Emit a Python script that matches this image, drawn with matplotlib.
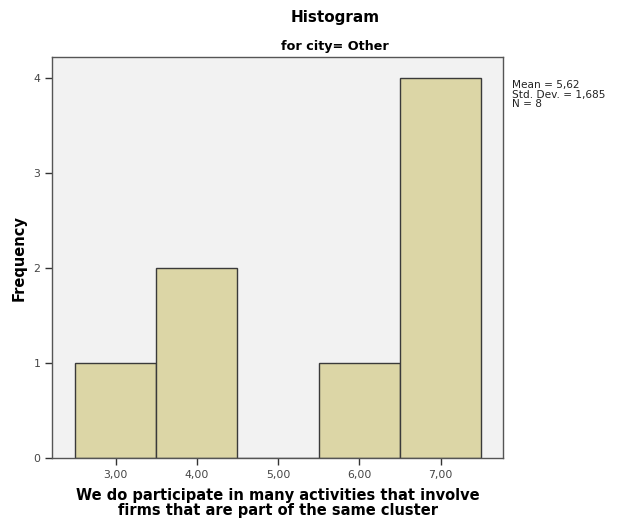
import numpy as np
import matplotlib
matplotlib.use("Agg")
import matplotlib.pyplot as plt

# Responses (1-7 scale) for city = Other
scores = [3, 4, 4, 6, 7, 7, 7, 7]
bin_edges = [2.5, 3.5, 4.5, 5.5, 6.5, 7.5]
x_ticks = [3, 4, 5, 6, 7]
x_tick_labels = ["3,00", "4,00", "5,00", "6,00", "7,00"]
y_ticks = [0, 1, 2, 3, 4]

mean = np.mean(scores)
sd = np.std(scores, ddof=1)
n = len(scores)

fig = plt.figure(figsize=(6.21, 5.26), dpi=100)
fig.patch.set_facecolor("white")
ax = fig.add_axes([0.0837, 0.129, 0.7265, 0.7626])
ax.set_facecolor("#f2f2f2")

ax.hist(scores, bins=bin_edges, color="#dcd6a6", edgecolor="#3a3a3a", linewidth=1.0)

ax.set_xlim(2.217, 7.77)
ax.set_ylim(0, 4.22)
ax.set_xticks(x_ticks)
ax.set_xticklabels(x_tick_labels)
ax.set_yticks(y_ticks)
ax.tick_params(axis="both", direction="out", length=5, width=1, colors="#333333",
               labelsize=7.8, labelcolor="#444444")
for side in ["left", "bottom", "top", "right"]:
    ax.spines[side].set_color("#555555")
    ax.spines[side].set_linewidth(1.0)

ax.set_ylabel("Frequency", fontsize=10.5, fontweight="bold", labelpad=5)
ax.set_xlabel("We do participate in many activities that involve\nfirms that are part of the same cluster",
              fontsize=10.5, fontweight="bold", linespacing=0.95, labelpad=6)

fig.text(0.539, 0.966, "Histogram", ha="center", va="center", fontsize=11, fontweight="bold")
fig.text(0.539, 0.912, "for city= Other", ha="center", va="center", fontsize=9.2, fontweight="bold")

stats = f"Mean = {mean:.2f}\nStd. Dev. = {sd:.3f}\nN = {n}".replace(".", ",").replace("Std, Dev,", "Std. Dev.")
fig.text(0.824, 0.848, stats, ha="left", va="top", fontsize=7.6, linespacing=0.95, color="#222222")

fig.savefig("out.png", dpi=100)
